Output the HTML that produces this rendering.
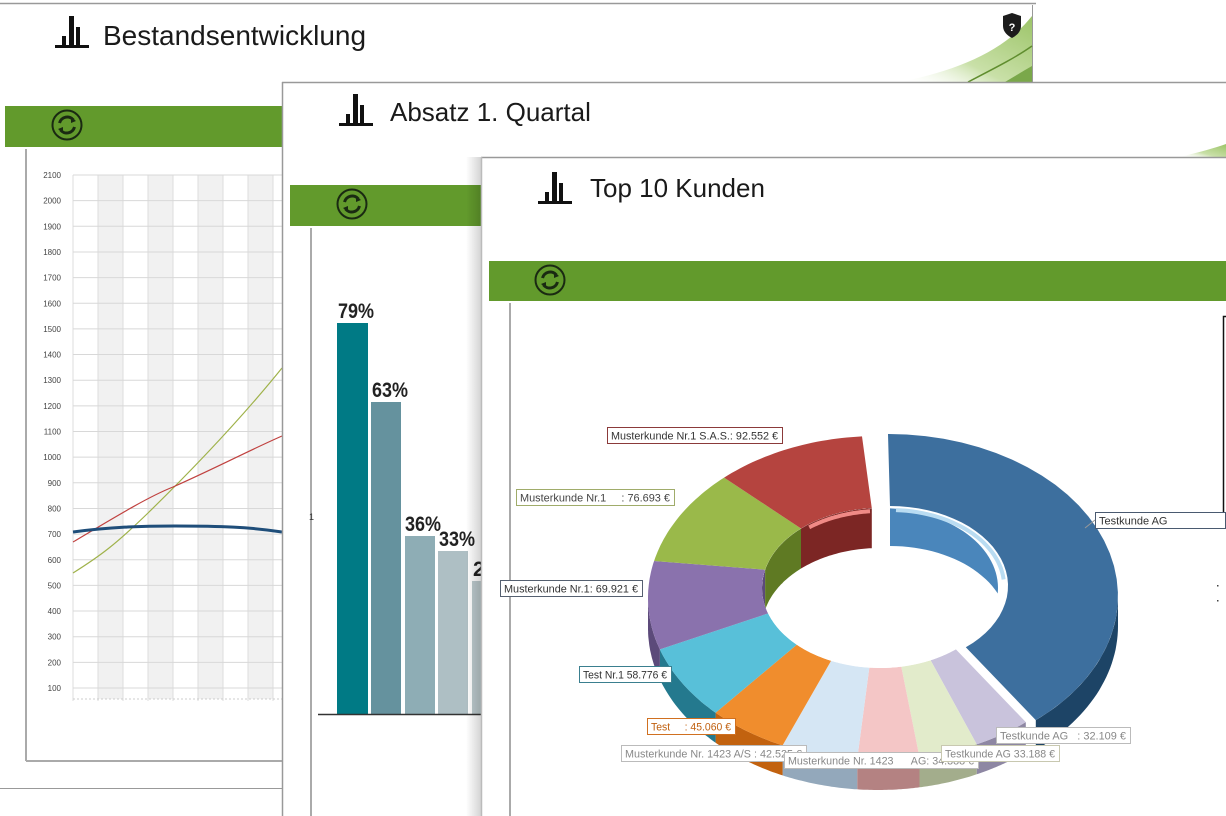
<!DOCTYPE html>
<html><head><meta charset="utf-8">
<style>
html,body{margin:0;padding:0;background:#fff;}
body{width:1226px;height:816px;position:relative;overflow:hidden;font-family:"Liberation Sans",sans-serif;}
#labels text{white-space:pre;}
</style></head>
<body>
<svg id="s" width="1226" height="816" viewBox="0 0 1226 816" xmlns="http://www.w3.org/2000/svg" style="position:absolute;left:0;top:0">
<defs>
<linearGradient id="leaf" x1="0" y1="1" x2="1" y2="0">
<stop offset="0" stop-color="#ffffff" stop-opacity="0"/>
<stop offset="0.4" stop-color="#c9e0a8"/>
<stop offset="1" stop-color="#9cc468"/>
</linearGradient>
<linearGradient id="sh2" x1="0" x2="1"><stop offset="0" stop-color="#000" stop-opacity="0"/><stop offset="1" stop-color="#000" stop-opacity="0.18"/></linearGradient>
<symbol id="bars" viewBox="0 0 34 32"><rect x="0" y="29" width="34" height="3" fill="#111"/><rect x="7" y="20" width="4" height="9" fill="#111"/><rect x="14" y="0" width="5" height="29" fill="#111"/><rect x="21" y="11" width="4" height="18" fill="#111"/></symbol>
<symbol id="ref" viewBox="0 0 32 32"><circle cx="16" cy="16" r="14.5" fill="none" stroke="#1a2a12" stroke-width="2"/><path d="M8.5 14 A8 8 0 0 1 22.5 11" fill="none" stroke="#1a2a12" stroke-width="3"/><path d="M23.5 18 A8 8 0 0 1 9.5 21" fill="none" stroke="#1a2a12" stroke-width="3"/><path d="M20 8 L25 12 L20 14Z" fill="#1a2a12"/><path d="M12 24 L7 20 L12 18Z" fill="#1a2a12"/></symbol>
</defs>

<line x1="0" y1="3.5" x2="1036" y2="3.5" stroke="#999" stroke-width="1.5"/>
<line x1="1032.5" y1="5" x2="1032.5" y2="82" stroke="#999"/>
<path d="M900 82 C960 70 1005 50 1032 16 L1032 82Z" fill="url(#leaf)"/>
<path d="M968 82 C995 68 1015 58 1032 46" fill="none" stroke="#5f8d2e" stroke-width="1.5"/>
<path d="M1005 82 C1015 76 1025 70 1032 66 L1032 82Z" fill="#7aa84a"/>
<path d="M1003 16 L1012 13 L1021 16 L1021 26 C1021 32 1016 36 1012 38 C1008 36 1003 32 1003 26Z" fill="#1c1c1c"/>
<text x="1012" y="31" font-size="11" font-weight="bold" fill="#fff" text-anchor="middle">?</text>
<use href="#bars" x="55" y="16" width="34" height="32"/>
<text x="103" y="45" font-size="28" fill="#1a1a1a">Bestandsentwicklung</text>
<rect x="5" y="106" width="280" height="41" fill="#629a2c"/>
<use href="#ref" x="51" y="109" width="32" height="32"/>
<line x1="26" y1="149" x2="26" y2="761" stroke="#aaa" stroke-width="2"/>
<line x1="26" y1="761" x2="282" y2="761" stroke="#aaa" stroke-width="2"/>
<line x1="0" y1="788.5" x2="282" y2="788.5" stroke="#999"/>
<g id="grid"></g>

<rect x="282" y="82" width="944" height="734" fill="#fff"/>
<line x1="282" y1="82.5" x2="1226" y2="82.5" stroke="#999" stroke-width="1.5"/>
<line x1="282.5" y1="82" x2="282.5" y2="816" stroke="#999" stroke-width="1.5"/>
<path d="M1180 157 C1200 152 1215 148 1226 144 L1226 157Z" fill="url(#leaf)"/>
<use href="#bars" x="339" y="94" width="34" height="32"/>
<text x="390" y="121" font-size="26" fill="#1a1a1a">Absatz 1. Quartal</text>
<rect x="290" y="185" width="192" height="41" fill="#629a2c"/>
<use href="#ref" x="336" y="188" width="32" height="32"/>
<line x1="311" y1="228" x2="311" y2="816" stroke="#aaa" stroke-width="2"/>
<text x="309" y="520" font-size="9" fill="#333">1</text>
<rect x="337" y="323" width="31" height="392" fill="#007a85"/>
<rect x="371" y="402" width="30" height="313" fill="#65929e"/>
<rect x="405" y="536" width="30" height="179" fill="#8eadb5"/>
<rect x="438" y="551" width="30" height="164" fill="#aebfc4"/>
<rect x="472" y="581" width="10" height="134" fill="#bccacd"/>
<line x1="318" y1="714.5" x2="482" y2="714.5" stroke="#333" stroke-width="1.5"/>
<g font-family="'Liberation Sans Narrow','Liberation Sans',sans-serif" font-weight="bold" font-size="21" fill="#222">
<text x="338" y="318" textLength="36" lengthAdjust="spacingAndGlyphs">79%</text><text x="372" y="397" textLength="36" lengthAdjust="spacingAndGlyphs">63%</text><text x="405" y="531" textLength="36" lengthAdjust="spacingAndGlyphs">36%</text><text x="439" y="546" textLength="36" lengthAdjust="spacingAndGlyphs">33%</text><text x="473" y="576">2</text>
</g>

<rect x="466" y="157" width="16" height="659" fill="url(#sh2)"/>
<rect x="481" y="157" width="745" height="659" fill="#fff"/>
<line x1="481" y1="157.5" x2="1226" y2="157.5" stroke="#999" stroke-width="1.5"/>
<line x1="481.5" y1="157" x2="481.5" y2="816" stroke="#bbb" stroke-width="1.5"/>
<use href="#bars" x="538" y="172" width="34" height="32"/>
<text x="590" y="197" font-size="26" fill="#1a1a1a">Top 10 Kunden</text>
<rect x="489" y="261" width="737" height="40" fill="#629a2c"/>
<use href="#ref" x="534" y="264" width="32" height="32"/>
<line x1="510" y1="303" x2="510" y2="816" stroke="#aaa" stroke-width="2"/>
<path d="M1226 316.5 L1223.5 316.5 L1223.5 521 L1226 521" fill="none" stroke="#111" stroke-width="1.5"/>
<rect x="1217" y="585" width="1.5" height="1.5" fill="#444"/><rect x="1217" y="600" width="1.5" height="1.5" fill="#444"/>
<g id="donut"></g>
<g id="labels" font-family="'Liberation Sans Narrow','Liberation Sans',sans-serif" font-size="11"></g>
</svg>
<script>
var NS="http://www.w3.org/2000/svg";
function el(p,t,a){var e=document.createElementNS(NS,t);for(var k in a)e.setAttribute(k,a[k]);p.appendChild(e);return e;}
var g=document.getElementById('grid');
[98,148,198,248].forEach(function(x){el(g,'rect',{x:x,y:175,width:25,height:524,fill:'#f1f1f1'});});
for(var x=73;x<=282;x+=25)el(g,'line',{x1:x,y1:175,x2:x,y2:701,stroke:'#ddd'});
for(var v=100;v<=2100;v+=100){var y=688-(v-100)*0.2565;el(g,'line',{x1:73,y1:y,x2:282,y2:y,stroke:'#d8d8d8'});
var t=el(g,'text',{x:61,y:y+3,'font-size':8,fill:'#444','text-anchor':'end'});t.textContent=v;}
el(g,'line',{x1:73,y1:699,x2:282,y2:699,stroke:'#ccc','stroke-dasharray':'2,2'});
el(g,'path',{d:'M73 573 C100 556 115 545 148 513 C190 472 240 420 282 368',fill:'none',stroke:'#9fb24a','stroke-width':1.2});
el(g,'path',{d:'M73 542 C120 514 150 496 173 487 C220 466 250 450 282 436',fill:'none',stroke:'#c0413f','stroke-width':1.2});
el(g,'path',{d:'M73 532 C110 527 140 526 175 526 C220 526 250 527 282 532',fill:'none',stroke:'#1f4e7a','stroke-width':3});
var d=document.getElementById('donut');
var cx=878,cy=598,rx=230,ry=162,ix=880,iy=588,irx=118,iry=80,H=30,HI=40;
var R=Math.PI/180;
function P(c,cY,a,b,t){return [c+a*Math.sin(t*R),cY-b*Math.cos(t*R)];}
var sl=[[0,140,'#3d6f9e','#1d4466',10,-2],[140,154.6,'#c9c3dc','#8e87a3',0,0],[154.6,169.6,'#e2ebcb','#a3ad8c',0,0],[169.6,185.2,'#f4c6c6','#b48282',0,0],[185.2,204.5,'#d5e6f4','#93a8bb',0,0],[204.5,224.9,'#f08d2d','#c2620f',0,0],[224.9,251.5,'#58c0d9','#24798e',0,0],[251.5,283.2,'#8a72ad','#5c4a7a',0,0],[283.2,318,'#9ab94a','#5f7a23',0,0],[318,356,'#b5443f','#7c2624',0,0]];
function arc(c,cY,a,b,t1,t2,dy){var s='';for(var t=t1;t<=t2+0.001;t+=(t2-t1)/30){var p=P(c,cY,a,b,t);s+=' L'+p[0].toFixed(1)+' '+(p[1]+dy).toFixed(1);}return s;}
function arcR(c,cY,a,b,t1,t2,dy){var s='';for(var t=t2;t>=t1-0.001;t-=(t2-t1)/30){var p=P(c,cY,a,b,t);s+=' L'+p[0].toFixed(1)+' '+(p[1]+dy).toFixed(1);}return s;}
sl.forEach(function(q){var a=Math.max(q[0],90),b=Math.min(q[1],270);if(b<=a)return;
var gg=el(d,'g',{transform:'translate('+q[4]+','+q[5]+')'});
el(gg,'path',{d:'M'+arc(cx,cy,rx,ry,a,b,0).slice(2)+arcR(cx,cy,rx,ry,a,b,H)+'Z',fill:q[3]});});
sl.forEach(function(q){var gg=el(d,'g',{transform:'translate('+q[4]+','+q[5]+')'});
el(gg,'path',{d:'M'+arc(cx,cy,rx,ry,q[0],q[1],0).slice(2)+arcR(ix,iy,irx,iry,q[0],q[1],0)+'Z',fill:q[2]});});
el(d,'ellipse',{cx:ix,cy:iy,rx:irx,ry:iry,fill:'#fff'});
var cp=el(d,'clipPath',{id:'hc'});el(cp,'ellipse',{cx:ix,cy:iy,rx:irx,ry:iry});
var hg=el(d,'g',{'clip-path':'url(#hc)'});
var wall={0:'#4a86bb'};
sl.forEach(function(q,i){var a=q[0],b=q[1];
var ranges=[[Math.max(a,0),Math.min(b,90)],[Math.max(a,270),Math.min(b,360)]];
ranges.forEach(function(r){if(r[1]<=r[0])return;
el(hg,'path',{d:'M'+arc(ix+q[4],iy+q[5],irx,iry,r[0],r[1],0).slice(2)+arcR(ix+q[4],iy+q[5],irx,iry,r[0],r[1],HI)+'Z',fill:wall[i]||q[3]});});});
el(d,'path',{d:'M'+arc(ix+10,iy-2,irx-4,iry-4,3,85,0).slice(2),fill:'none',stroke:'#b9dcf2','stroke-width':4});
el(d,'path',{d:'M'+arc(ix,iy,irx-3,iry-3,322,355,0).slice(2),fill:'none',stroke:'#f08a86','stroke-width':4});
var L=document.getElementById('labels');
function lab(x,y,w,txt,bc,tc,tl){el(L,'rect',{x:x+.5,y:y+.5,width:w,height:16,fill:'#fff',stroke:bc});var a={x:x+4,y:y+12.5,fill:tc};if(tl!==0){a.textLength=w-8;a.lengthAdjust='spacingAndGlyphs';}var t=el(L,'text',a);t.textContent=txt;}
lab(607,427,175,'Musterkunde Nr.1 S.A.S.: 92.552 €','#8b3a3a','#333');
lab(516,489,158,'Musterkunde Nr.1     : 76.693 €','#a0ac6a','#444');
lab(500,580,142,'Musterkunde Nr.1: 69.921 €','#556070','#333');
lab(579,666,92,'Test Nr.1 58.776 €','#3a7f8f','#333');
lab(647,718,88,'Test     : 45.060 €','#d07020','#c0600f');
lab(621,745,185,'Musterkunde Nr. 1423 A/S : 42.525 €','#bbb','#888');
lab(784,752,194,'Musterkunde Nr. 1423      AG: 34.388 €','#bbb','#888');
lab(996,727,134,'Testkunde AG   : 32.109 €','#bbb','#888');
lab(941,745,118,'Testkunde AG 33.188 €','#c8c8b0','#888');
lab(1095,512,130,'Testkunde AG','#4a5a70','#333',0);
el(L,'line',{x1:1085,y1:528,x2:1095,y2:520,stroke:'#999'});
</script>
</body></html>
